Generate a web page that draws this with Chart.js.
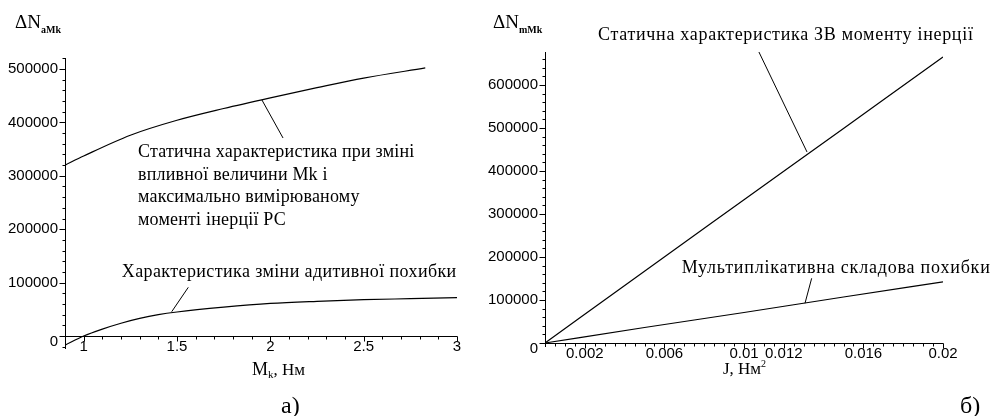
<!DOCTYPE html>
<html>
<head>
<meta charset="utf-8">
<script src="https://cdn.jsdelivr.net/npm/chart.js@4.4.1/dist/chart.umd.min.js"></script>
<style>
  html, body { margin: 0; padding: 0; background: #fff; }
  #wrap { position: relative; width: 994px; height: 416px; overflow: hidden; }
  canvas { position: absolute; top: 0; }
  #leftChart { left: 0; }
  #rightChart { left: 480px; }
</style>
</head>
<body>
<div id="wrap">
  <canvas id="leftChart" width="480" height="416"></canvas>
  <canvas id="rightChart" width="514" height="416"></canvas>
</div>
<script>
// --- a) static characteristic vs Mk ---
const mkUpper = [0.9, 1.0, 1.25, 1.5, 1.75, 2.0, 2.25, 2.5, 2.83];
const staticMk = [320000, 337000, 376000, 404000, 426000, 446000, 465000, 483000, 502000];
const mkLower = [0.9, 1.0, 1.1, 1.2, 1.3, 1.4, 1.5, 1.75, 2.0, 2.25, 2.5, 2.75, 3.0];
const additiveErr = [-17000, 0, 13000, 24000, 33000, 40000, 45000, 54000, 61000, 65000, 68000, 70000, 72000];
const leftXTicks = [1, 1.5, 2, 2.5, 3];
const leftYTicks = [0, 100000, 200000, 300000, 400000, 500000];

// --- б) static characteristic vs J ---
const jValues = [0, 0.005, 0.01, 0.015, 0.02];
const staticJ = [0, 167000, 333000, 499000, 665000];
const multErr = [0, 36000, 71000, 107000, 142000];
const rightXTicks = [0.002, 0.006, 0.01, 0.012, 0.016, 0.02];
const rightYTicks = [0, 100000, 200000, 300000, 400000, 500000, 600000];

const SERIF = '"Liberation Serif", "Times New Roman", serif';
const SANS = '"Liberation Sans", Arial, sans-serif';

const toPoints = (xs, ys) => xs.map((v, i) => ({ x: v, y: ys[i] }));

// draws Maple-style axes, ticks, labels and notes from the chart's own scales
const mapleAxes = {
    id: 'mapleAxes',
    afterDraw(chart, args, o) {
        const { ctx, chartArea: a, scales: { x, y } } = chart;
        const y0 = Math.round(y.getPixelForValue(0)) + 0.5;
        const xl = Math.round(a.left) + 0.5;
        ctx.save();
        ctx.strokeStyle = '#000';
        ctx.fillStyle = '#000';
        ctx.lineWidth = 1;

        ctx.beginPath();
        ctx.moveTo(xl, a.top); ctx.lineTo(xl, a.bottom);
        ctx.moveTo(a.left, y0); ctx.lineTo(a.right, y0);

        // minor ticks
        for (let i = Math.ceil(y.min / o.yMinor); i * o.yMinor <= y.max; i++) {
            const py = Math.round(y.getPixelForValue(i * o.yMinor)) + 0.5;
            ctx.moveTo(xl - 3, py); ctx.lineTo(xl, py);
        }
        for (let i = Math.ceil(x.min / o.xMinor); i * o.xMinor <= x.max + 1e-9; i++) {
            const px = Math.round(x.getPixelForValue(i * o.xMinor)) + 0.5;
            ctx.moveTo(px, y0); ctx.lineTo(px, y0 + 3);
        }
        // major ticks
        o.yTicks.forEach(v => {
            const py = Math.round(y.getPixelForValue(v)) + 0.5;
            ctx.moveTo(xl - 6, py); ctx.lineTo(xl, py);
        });
        o.xTicks.forEach(v => {
            const px = Math.round(x.getPixelForValue(v)) + 0.5;
            ctx.moveTo(px, y0); ctx.lineTo(px, y0 + 5);
        });
        ctx.stroke();

        ctx.font = '15px ' + SANS;
        ctx.textAlign = 'right';
        ctx.textBaseline = 'middle';
        o.yTicks.forEach(v => {
            const py = y.getPixelForValue(v) + (v === 0 ? 6 : 0);
            ctx.fillText(String(v), a.left - 7, py);
        });
        ctx.textAlign = 'center';
        ctx.textBaseline = 'top';
        o.xTicks.forEach(v => {
            ctx.fillText(String(v), x.getPixelForValue(v), y0 + 3);
        });

        // leader lines
        ctx.beginPath();
        o.leaders.forEach(l => {
            ctx.moveTo(x.getPixelForValue(l[0]), y.getPixelForValue(l[1]));
            ctx.lineTo(x.getPixelForValue(l[2]), y.getPixelForValue(l[3]));
        });
        ctx.stroke();

        // notes
        ctx.font = '18px ' + SERIF;
        ctx.textAlign = 'left';
        ctx.textBaseline = 'alphabetic';
        o.notes.forEach(n => {
            const px = x.getPixelForValue(n.x);
            const py = y.getPixelForValue(n.y);
            ctx.letterSpacing = (n.sp || 0) + 'px';
            n.lines.forEach((t, i) => ctx.fillText(t, px, py + i * 22.5));
        });
        ctx.letterSpacing = '0px';

        // y title: ΔN with subscript
        ctx.font = '19px ' + SERIF;
        ctx.fillText('ΔN', o.yTitle.x, 28);
        const w = ctx.measureText('ΔN').width;
        ctx.font = 'bold 10px ' + SERIF;
        ctx.fillText(o.yTitle.sub, o.yTitle.x + w, 33);

        // x title
        let cx = x.getPixelForValue(o.xTitle.x);
        o.xTitle.parts.forEach(p => {
            ctx.font = p.size + 'px ' + SERIF;
            ctx.fillText(p.t, cx, o.xTitle.base + (p.dy || 0));
            cx += ctx.measureText(p.t).width;
        });

        // panel letter
        ctx.font = '24px ' + SERIF;
        ctx.fillText(o.letter.t, o.letter.x, 413);
        ctx.restore();
    }
};

const lineStyle = {
    borderColor: '#000',
    borderWidth: 1.2,
    pointRadius: 0,
    fill: false,
    cubicInterpolationMode: 'monotone'
};

new Chart(document.getElementById('leftChart'), {
    type: 'line',
    data: {
        datasets: [
            { ...lineStyle, label: 'Статична характеристика', data: toPoints(mkUpper, staticMk) },
            { ...lineStyle, label: 'Адитивна похибка', data: toPoints(mkLower, additiveErr) }
        ]
    },
    options: {
        responsive: false,
        animation: false,
        devicePixelRatio: 1,
        layout: { padding: { left: 65, right: 23, top: 58, bottom: 67 } },
        scales: {
            x: { type: 'linear', min: 0.9, max: 3, display: false },
            y: { type: 'linear', min: -24300, max: 520600, display: false }
        },
        plugins: {
            legend: { display: false },
            tooltip: { enabled: false },
            mapleAxes: {
                xTicks: leftXTicks, yTicks: leftYTicks, xMinor: 0.1, yMinor: 20000,
                leaders: [[1.955, 442000, 2.068, 370800], [1.4716, 45500, 1.5605, 91200]],
                notes: [
                    { x: 1.291, y: 334300, sp: 0.2, lines: ['Статична характеристика при зміні', 'впливної величини Mk і', 'максимально вимірюваному', 'моменті інерції РС'] },
                    { x: 1.204, y: 110500, sp: 0.4, lines: ['Характеристика зміни адитивної похибки'] }
                ],
                yTitle: { x: 15, sub: 'aMk' },
                xTitle: { x: 1.902, base: 375, parts: [{ t: 'M', size: 18 }, { t: 'k', size: 11, dy: 3 }, { t: ', Нм', size: 17 }] },
                letter: { t: 'а)', x: 281 }
            }
        }
    },
    plugins: [mapleAxes]
});

new Chart(document.getElementById('rightChart'), {
    type: 'line',
    data: {
        datasets: [
            { ...lineStyle, label: 'Статична характеристика ЗВ', data: toPoints(jValues, staticJ) },
            { ...lineStyle, label: 'Мультиплікативна похибка', data: toPoints(jValues, multErr) }
        ]
    },
    options: {
        responsive: false,
        animation: false,
        devicePixelRatio: 1,
        layout: { padding: { left: 65, right: 51, top: 52, bottom: 69 } },
        scales: {
            x: { type: 'linear', min: 0, max: 0.02, display: false },
            y: { type: 'linear', min: -9300, max: 676700, display: false }
        },
        plugins: {
            legend: { display: false },
            tooltip: { enabled: false },
            mapleAxes: {
                xTicks: rightXTicks, yTicks: rightYTicks, xMinor: 0.0005, yMinor: 20000,
                leaders: [[0.01075, 676700, 0.013166, 444200], [0.0134, 150500, 0.013065, 92300]],
                notes: [
                    { x: 0.002663, y: 704700, sp: 0.7, lines: ['Статична характеристика ЗВ моменту інерції'] },
                    { x: 0.006869, y: 162800, sp: 0.8, lines: ['Мультиплікативна складова похибки'] }
                ],
                yTitle: { x: 13, sub: 'mMk' },
                xTitle: { x: 0.00894, base: 374, parts: [{ t: 'J, Нм', size: 17 }, { t: '2', size: 10, dy: -7 }] },
                letter: { t: 'б)', x: 480 }
            }
        }
    },
    plugins: [mapleAxes]
});
</script>
</body>
</html>
